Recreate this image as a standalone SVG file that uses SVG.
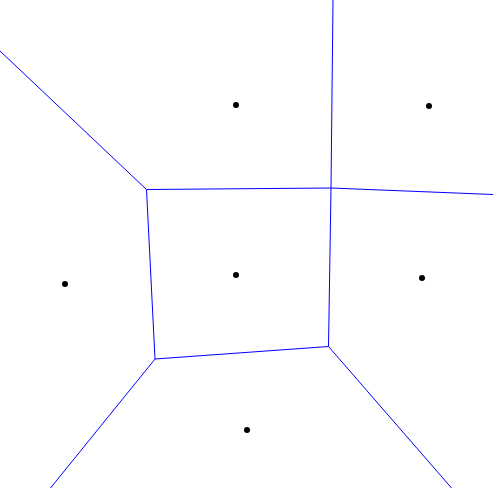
<svg xmlns="http://www.w3.org/2000/svg" width="493" height="488" viewBox="0 0 493 488">
<style>
.e{stroke:#0000ff;stroke-width:1;fill:none}
.s{fill:#000}
</style>
<rect width="493" height="488" fill="#fff"/>
<g id="edges">
<polyline class="e" points="0,51 146.5,189.5 155,359 328.5,346.5 331,188 146.5,189.5"/>
<line class="e" x1="331" y1="188" x2="333" y2="0"/>
<line class="e" x1="331" y1="188" x2="493" y2="194.5"/>
<line class="e" x1="155" y1="359" x2="50.5" y2="488"/>
<line class="e" x1="328.5" y1="346.5" x2="451.5" y2="488"/>
</g>
<g id="sites">
<circle id="p1" class="s" cx="236" cy="105" r="3"/>
<circle id="p2" class="s" cx="429" cy="106" r="3"/>
<circle id="p3" class="s" cx="236" cy="275" r="3"/>
<circle id="p4" class="s" cx="65" cy="284" r="3"/>
<circle id="p5" class="s" cx="422" cy="278" r="3"/>
<circle id="p6" class="s" cx="247" cy="430" r="3"/>
</g>
</svg>
